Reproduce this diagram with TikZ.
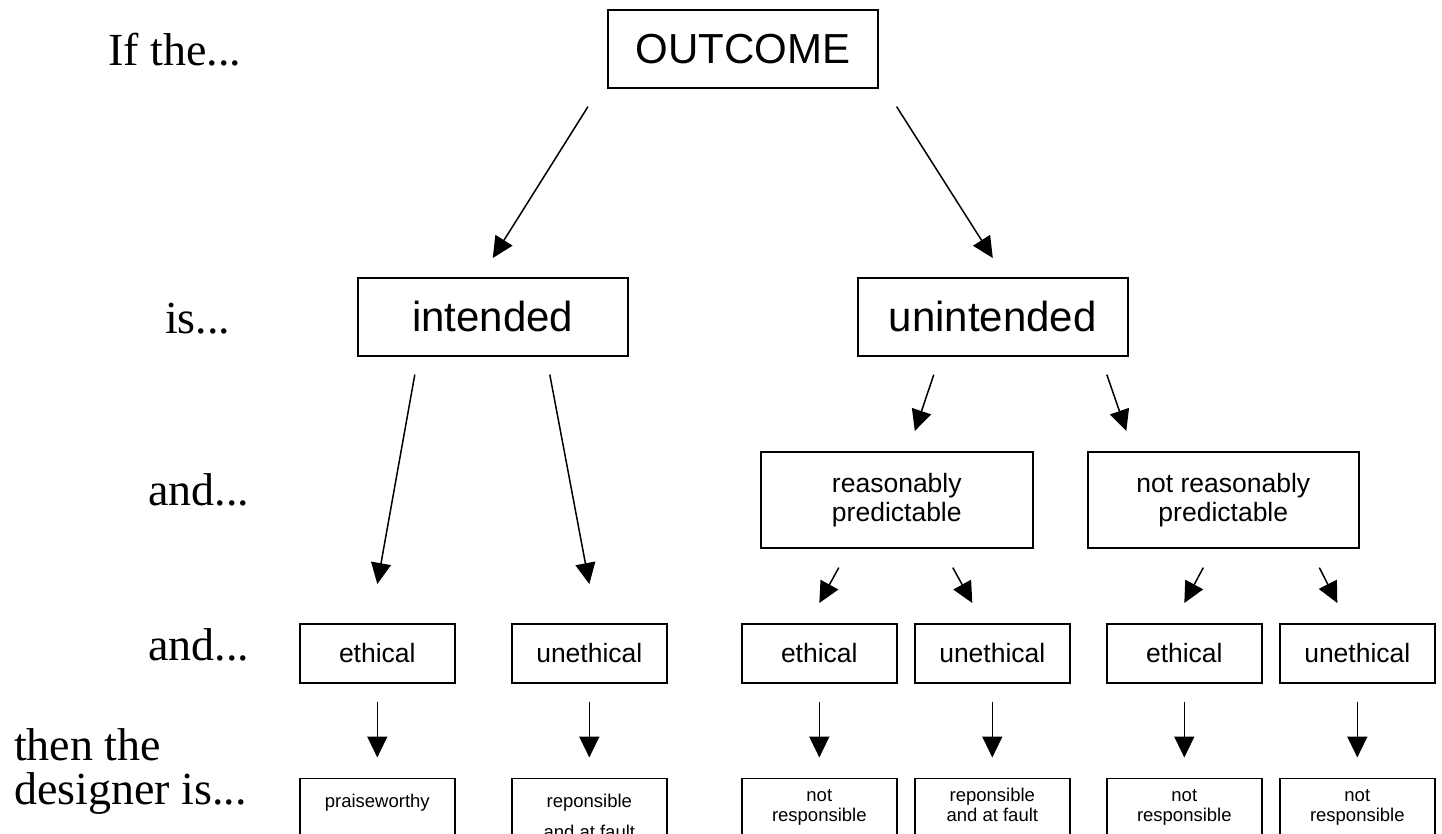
\documentclass[tikz,border=0pt]{standalone}
\usepackage{fontspec}
\setmainfont{Liberation Serif}
\newfontfamily\arialf{Liberation Sans}
\usetikzlibrary{arrows.meta,calc}
\begin{document}
\begin{tikzpicture}[x=1pt,y=-1pt,
  box/.style={draw, line width=1.6pt, inner sep=0pt, align=center, anchor=north west},
  big/.style={font=\arialf\fontsize{42}{48}\selectfont},
  mid/.style={font=\arialf\fontsize{26.5}{29}\selectfont},
  small/.style={font=\arialf\fontsize{18.5}{20}\selectfont},
  lbl/.style={font=\fontsize{46}{50}\selectfont, anchor=base west, inner sep=0pt},
  arr/.style={line width=1.5pt, -{Triangle[length=21pt,width=20pt]}},
  rowbox/.style={box, mid, minimum width=155pt, minimum height=59pt},
  botbox/.style={box, minimum width=155pt, minimum height=90pt},
  btxt/.style={small, align=center, anchor=north, inner sep=0pt},
]
\fill[white] (0,0) rectangle (1442,833);
\useasboundingbox (0,0) rectangle (1442,833);

% left labels
\node[lbl] (l1) at (108,65) {If the...};
\node[lbl] (l2) at (165,333) {is...};
\node[lbl] (l3) at (148,505) {and...};
\node[lbl] (l4) at (148,660) {and...};
\node[lbl] (l5) at (14,760) {then the};
\node[lbl] (l6) at (14,804) {designer is...};

% boxes
\node[box,big,minimum width=270pt,minimum height=78pt] (outcome) at (607,9) {OUTCOME};
\node[box,big,minimum width=270pt,minimum height=78pt] (intended) at (357,277) {intended};
\node[box,big,minimum width=270pt,minimum height=78pt] (unintended) at (857,277) {unintended};
\node[box,mid,minimum width=272pt,minimum height=96pt] (rp) at (760,451) {reasonably\\predictable};
\node[box,mid,minimum width=271pt,minimum height=96pt] (nrp) at (1087,451) {not reasonably\\predictable};

\node[rowbox] (eth1) at (299,623) {ethical};
\node[rowbox] (uneth1) at (511,623) {unethical};
\node[rowbox] (eth2) at (741,623) {ethical};
\node[rowbox] (uneth2) at (914,623) {unethical};
\node[rowbox] (eth3) at (1106,623) {ethical};
\node[rowbox] (uneth3) at (1279,623) {unethical};

\node[botbox, label={[btxt,yshift=-15.5pt]north:{\strut praiseworthy}}] (b1) at (299,777.5) {};
\node[botbox, label={[btxt,yshift=-15.5pt]north:{\strut reponsible\\[11pt]\strut and at fault}}] (b2) at (511,777.5) {};
\node[botbox, label={[btxt,yshift=-9.5pt]north:{\strut not\\\strut responsible}}] (b3) at (741,777.5) {};
\node[botbox, label={[btxt,yshift=-9.5pt]north:{\strut reponsible\\\strut and at fault}}] (b4) at (914,777.5) {};
\node[botbox, label={[btxt,yshift=-9.5pt]north:{\strut not\\\strut responsible}}] (b5) at (1106,777.5) {};
\node[botbox, label={[btxt,yshift=-9.5pt]north:{\strut not\\\strut responsible}}] (b6) at (1279,777.5) {};

% arrows
\draw[arr] ($(outcome.south west)+(-19,18)$) -- ($(intended.north)+(0,-19)$);
\draw[arr] ($(outcome.south east)+(18,18)$) -- ($(unintended.north)+(0,-19)$);
\draw[arr] ($(intended.south)+(-78,18)$) -- ($(eth1.north)+(0,-39)$);
\draw[arr] ($(intended.south)+(57,18)$) -- ($(uneth1.north)+(0,-39)$);
\draw[arr] ($(unintended.south)+(-59,18)$) -- ($(rp.north)+(18,-20)$);
\draw[arr] ($(unintended.south)+(114,18)$) -- ($(nrp.north)+(-97,-20)$);
\draw[arr] ($(rp.south)+(-58,19)$) -- ($(eth2.north)+(0,-20)$);
\draw[arr] ($(rp.south)+(56,19)$) -- ($(uneth2.north)+(-20,-20)$);
\draw[arr] ($(nrp.south)+(-20,19)$) -- ($(eth3.north)+(0,-20)$);
\draw[arr] ($(nrp.south)+(96,19)$) -- ($(uneth3.north)+(-20,-20)$);
\foreach \a/\b in {eth1/b1,uneth1/b2,eth2/b3,uneth2/b4,eth3/b5,uneth3/b6}
  \draw[arr] ($(\a.south)+(0,18)$) -- ($(\b.north)+(0,-20)$);
\end{tikzpicture}
\end{document}
